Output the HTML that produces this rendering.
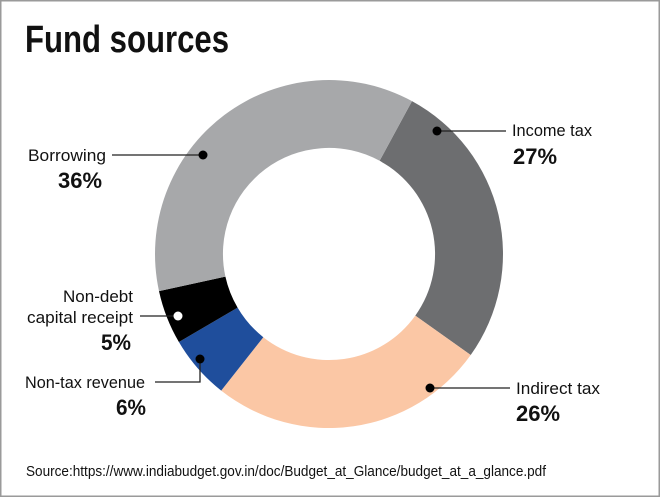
<!DOCTYPE html>
<html><head><meta charset="utf-8"><style>
html,body{margin:0;padding:0;background:#fff}
svg{display:block}
text{font-family:"Liberation Sans Narrow","Liberation Sans",sans-serif;fill:#111}
</style></head><body>
<svg width="660" height="497" viewBox="0 0 660 497" xmlns="http://www.w3.org/2000/svg">
<rect x="0.75" y="0.75" width="658.5" height="495.5" fill="#fff" stroke="#9a9a9a" stroke-width="1.5"/>
<text x="25" y="52" font-size="38" font-weight="bold" textLength="204" lengthAdjust="spacingAndGlyphs">Fund sources</text>
<!-- donut -->
<path d="M412.0,101.1 A174,174 0 0 1 470.7,355.0 L415.3,315.6 A106,106 0 0 0 379.6,160.8 Z" fill="#6d6e70"/>
<path d="M470.7,355.0 A174,174 0 0 1 221.2,390.6 L263.3,337.2 A106,106 0 0 0 415.3,315.6 Z" fill="#fbc7a5"/>
<path d="M221.2,390.6 A174,174 0 0 1 178.9,342.0 L237.6,307.6 A106,106 0 0 0 263.3,337.2 Z" fill="#1f4e9c"/>
<path d="M178.9,342.0 A174,174 0 0 1 159.0,291.1 L225.4,276.6 A106,106 0 0 0 237.6,307.6 Z" fill="#000"/>
<path d="M159.0,291.1 A174,174 0 0 1 412.0,101.1 L379.6,160.8 A106,106 0 0 0 225.4,276.6 Z" fill="#a7a8aa"/>
<!-- leaders -->
<g stroke="#222" stroke-width="1.3" fill="none">
<line x1="112" y1="155" x2="203" y2="155"/>
<line x1="437" y1="131" x2="506" y2="131"/>
<line x1="430" y1="388" x2="510" y2="388"/>
<line x1="140" y1="316" x2="178" y2="316"/>
<polyline points="155,382 200,382 200,359"/>
</g>
<circle cx="203" cy="155" r="4.5" fill="#000"/>
<circle cx="437" cy="131" r="4.5" fill="#000"/>
<circle cx="430" cy="388" r="4.5" fill="#000"/>
<circle cx="178" cy="316" r="4.5" fill="#fff"/>
<circle cx="200" cy="359" r="4.5" fill="#000"/>
<!-- labels -->
<text x="28" y="161" font-size="17" textLength="78" lengthAdjust="spacingAndGlyphs">Borrowing</text>
<text x="58" y="188" font-size="22" font-weight="bold" textLength="44" lengthAdjust="spacingAndGlyphs">36%</text>
<text x="512" y="136" font-size="17" textLength="80" lengthAdjust="spacingAndGlyphs">Income tax</text>
<text x="513" y="164" font-size="22" font-weight="bold" textLength="44" lengthAdjust="spacingAndGlyphs">27%</text>
<text x="516" y="394" font-size="17" textLength="84" lengthAdjust="spacingAndGlyphs">Indirect tax</text>
<text x="516" y="421" font-size="22" font-weight="bold" textLength="44" lengthAdjust="spacingAndGlyphs">26%</text>
<text x="133" y="302" font-size="17" text-anchor="end" textLength="70" lengthAdjust="spacingAndGlyphs">Non-debt</text>
<text x="133" y="323" font-size="17" text-anchor="end" textLength="106" lengthAdjust="spacingAndGlyphs">capital receipt</text>
<text x="131" y="350" font-size="22" font-weight="bold" text-anchor="end" textLength="30" lengthAdjust="spacingAndGlyphs">5%</text>
<text x="145" y="388" font-size="17" text-anchor="end" textLength="120" lengthAdjust="spacingAndGlyphs">Non-tax revenue</text>
<text x="146" y="415" font-size="22" font-weight="bold" text-anchor="end" textLength="30" lengthAdjust="spacingAndGlyphs">6%</text>
<text x="26" y="476" font-size="14.5" textLength="520" lengthAdjust="spacingAndGlyphs">Source:https://www.indiabudget.gov.in/doc/Budget_at_Glance/budget_at_a_glance.pdf</text>
</svg>
</body></html>
